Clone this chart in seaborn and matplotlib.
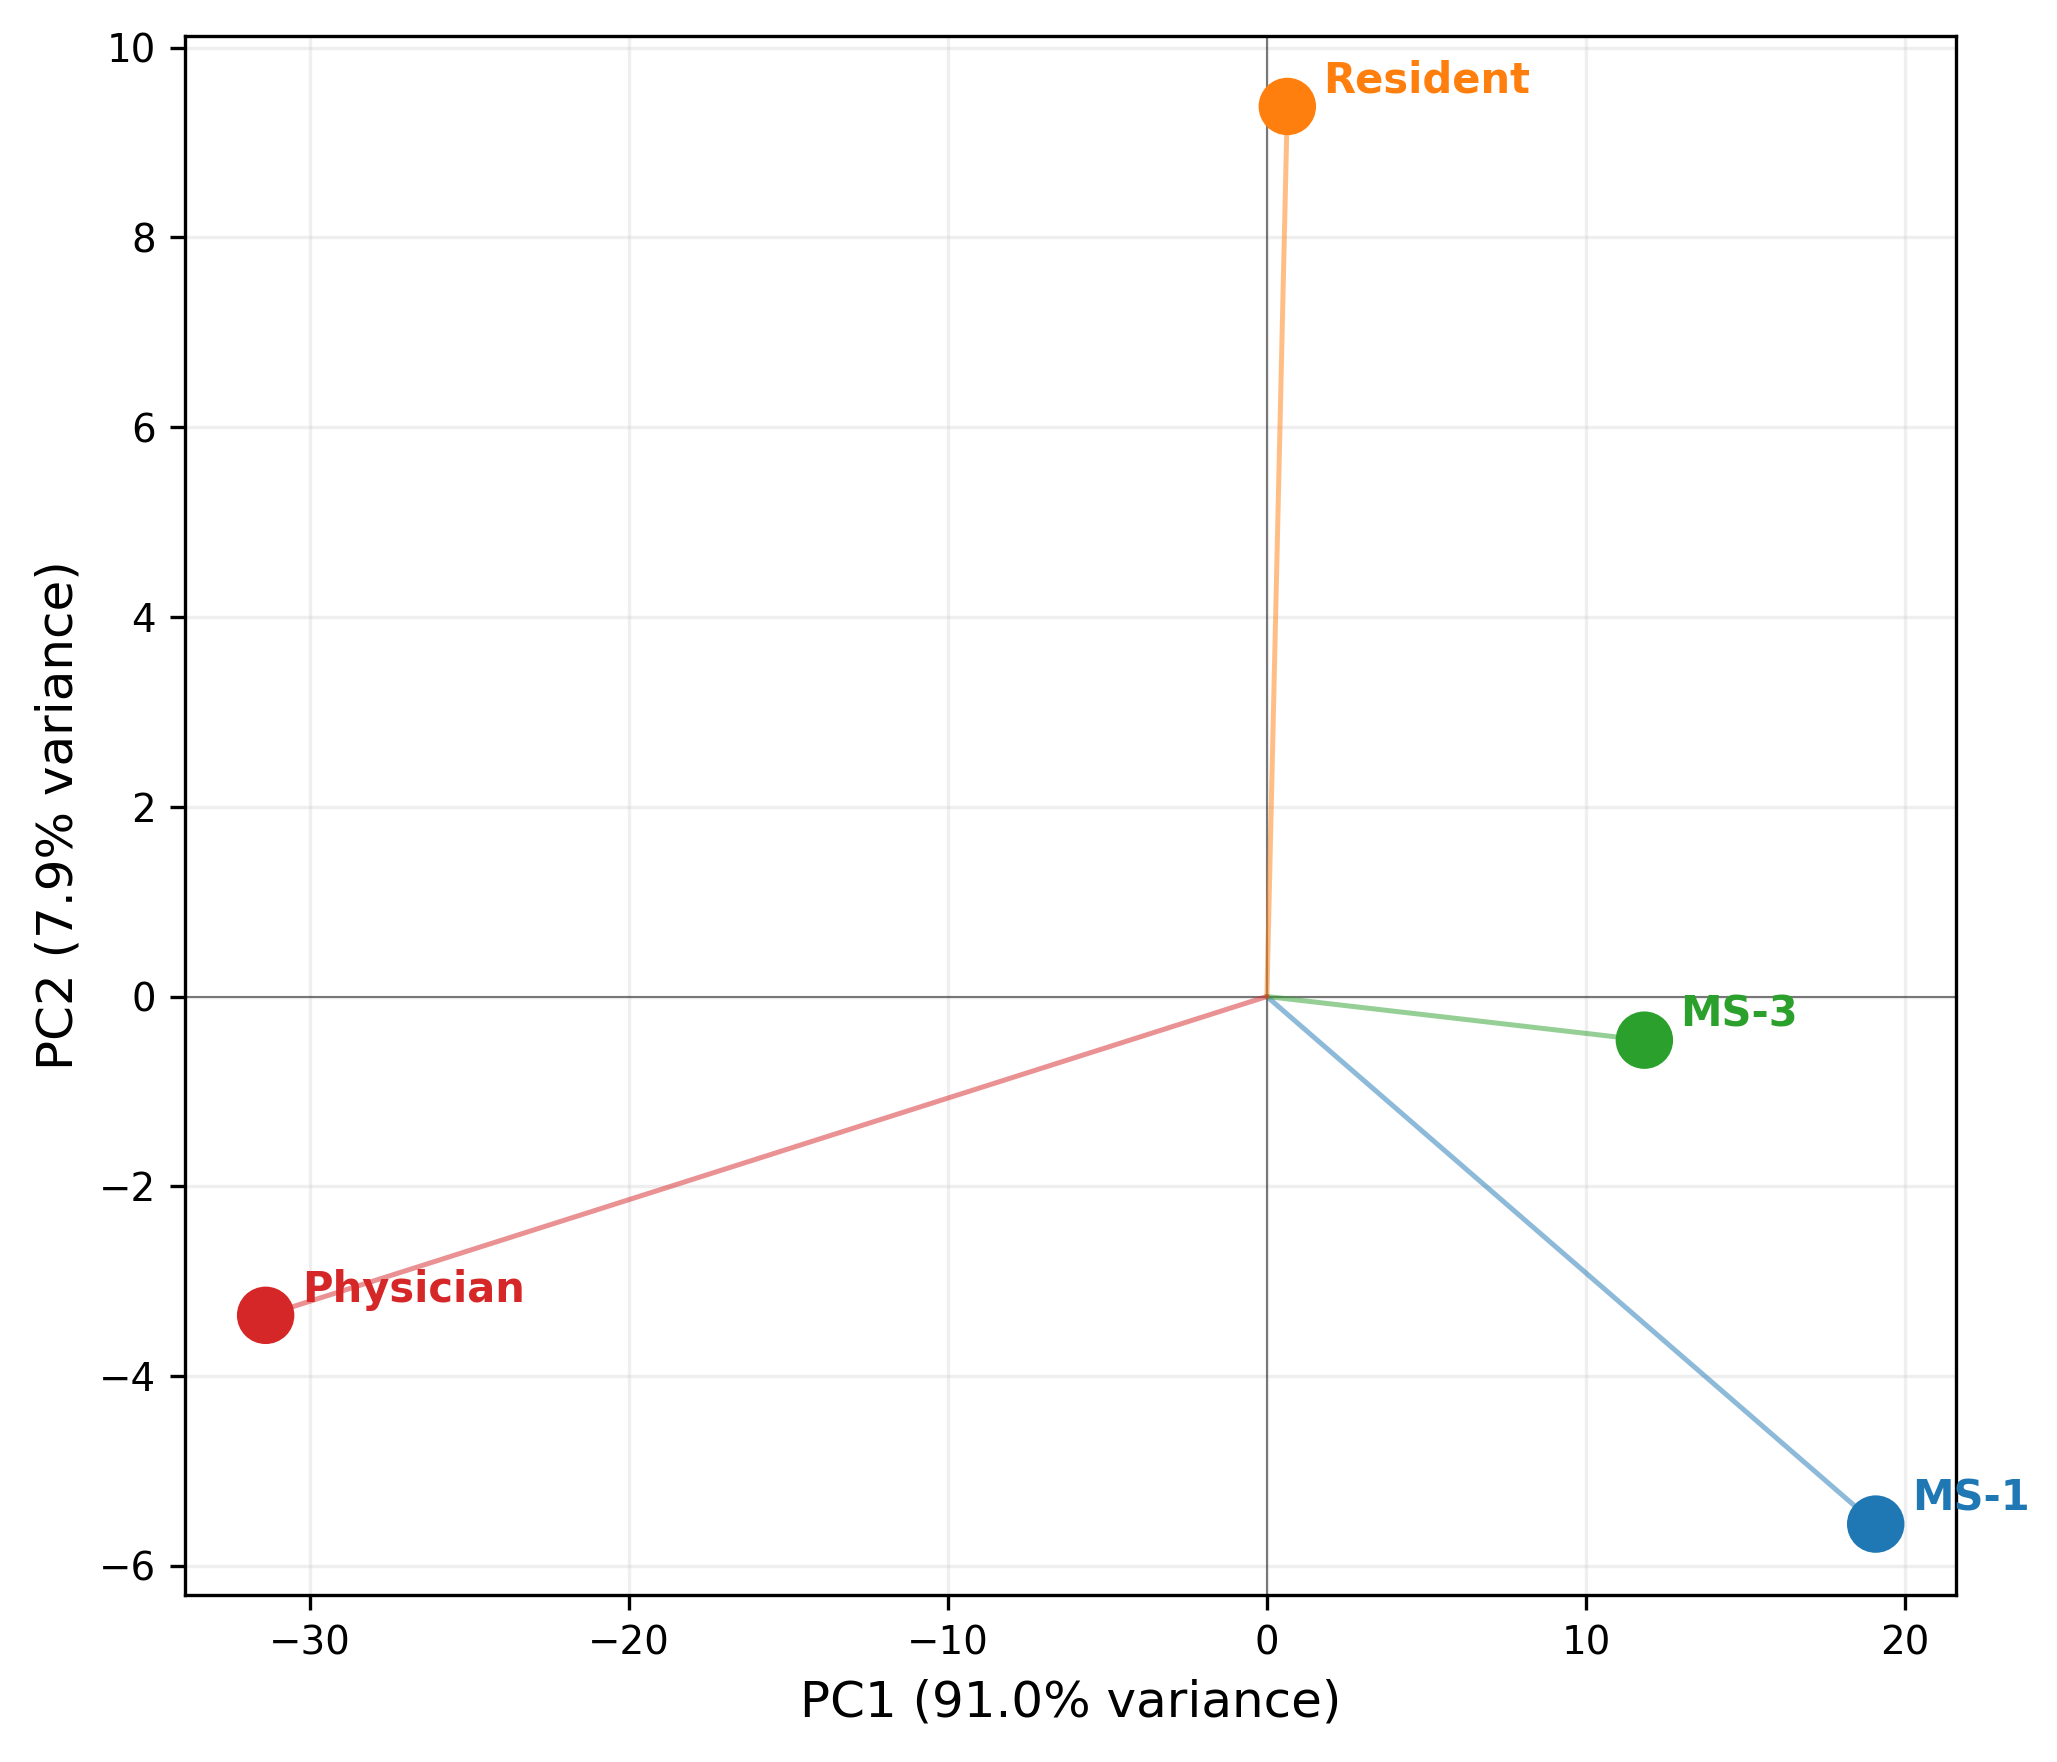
import matplotlib
matplotlib.use("Agg")
import matplotlib.pyplot as plt
import seaborn as sns
import pandas as pd

# PCA scores per group
GROUPS = ["MS-1", "MS-3", "Resident", "Physician"]
PC1 = [19.08, 11.83, 0.64, -31.38]
PC2 = [-5.56, -0.46, 9.38, -3.36]
COLORS = ["#1f77b4", "#2ca02c", "#ff7f0e", "#d62728"]
VAR_PC1 = 91.0
VAR_PC2 = 7.9

df = pd.DataFrame({"group": GROUPS, "PC1": PC1, "PC2": PC2})
palette = dict(zip(GROUPS, COLORS))

sns.set_style("ticks")
plt.rcParams["font.family"] = ["DejaVu Sans"]
plt.rcParams["text.color"] = "black"
plt.rcParams["axes.labelcolor"] = "black"
plt.rcParams["xtick.color"] = "black"
plt.rcParams["ytick.color"] = "black"
plt.rcParams["axes.linewidth"] = 0.8
plt.rcParams["xtick.major.width"] = 0.8
plt.rcParams["ytick.major.width"] = 0.8
plt.rcParams["xtick.major.size"] = 3.5
plt.rcParams["ytick.major.size"] = 3.5

DPI = 300
fig = plt.figure(figsize=(2057 / DPI, 1762 / DPI), dpi=DPI)
ax = fig.add_axes([0.090, 0.0948, 0.861, 0.885])

ax.grid(True, alpha=0.3, lw=0.8)
ax.axhline(0, color="black", lw=0.5, alpha=0.5)
ax.axvline(0, color="black", lw=0.5, alpha=0.5)

# vectors from origin
for _, row in df.iterrows():
    ax.plot([0, row["PC1"]], [0, row["PC2"]], color=palette[row["group"]],
            alpha=0.5, lw=1.2)

sns.scatterplot(data=df, x="PC1", y="PC2", hue="group", palette=palette,
                s=190, edgecolor="none", legend=False, ax=ax, zorder=3)

for _, row in df.iterrows():
    ax.annotate(row["group"], (row["PC1"], row["PC2"]), xytext=(8.7, 3.3),
                textcoords="offset points", fontsize=10, fontweight="bold",
                color=palette[row["group"]], zorder=5, annotation_clip=False)

ax.set_xlabel(f"PC1 ({VAR_PC1:.1f}% variance)", fontsize=12)
ax.set_ylabel(f"PC2 ({VAR_PC2:.1f}% variance)", fontsize=12)
ax.tick_params(labelsize=9.3, colors="black")
for sp in ax.spines.values():
    sp.set_visible(True)
    sp.set_color("black")

fig.savefig("out.png", dpi=DPI)
